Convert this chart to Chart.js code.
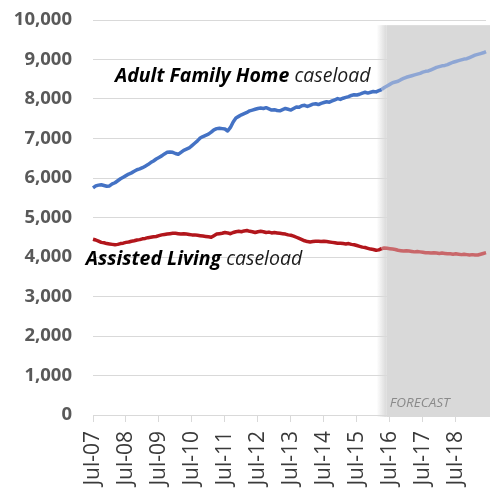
<!DOCTYPE html>
<html>
<head>
<meta charset="utf-8">
<script src="https://cdn.jsdelivr.net/npm/chart.js@4/dist/chart.umd.min.js"></script>
<style>
  html, body { margin: 0; padding: 0; background: #ffffff; }
  #wrap { width: 490px; height: 496px; }
</style>
</head>
<body>
<div id="wrap"><canvas id="c" width="490" height="496"></canvas></div>
<script>
// Monthly categories, Jul-07 through Jun-19
const MONTH_NAMES = ['Jan','Feb','Mar','Apr','May','Jun','Jul','Aug','Sep','Oct','Nov','Dec'];
const START_YEAR = 2007, START_MONTH = 6, MONTH_COUNT = 144;
const months = [];
for (let i = 0; i < MONTH_COUNT; i++) {
  const m = (START_MONTH + i) % 12;
  const y = START_YEAR + Math.floor((START_MONTH + i) / 12);
  months.push(MONTH_NAMES[m] + '-' + String(y % 100).padStart(2, '0'));
}

// Index of the first forecast month (Apr-16)
const forecastStart = months.indexOf('Apr-16');

// Adult Family Home caseload, by month
const adultFamilyHome = [
  5750, 5800, 5820, 5830, 5810, 5790, 5800, 5850, 5880, 5930, 5980, 6020,
  6060, 6100, 6130, 6170, 6210, 6230, 6260, 6300, 6340, 6390, 6430, 6480,
  6520, 6560, 6610, 6650, 6660, 6650, 6620, 6600, 6650, 6700, 6730, 6760,
  6820, 6880, 6940, 7010, 7050, 7080, 7110, 7160, 7220, 7250, 7260, 7250,
  7240, 7190, 7280, 7420, 7520, 7560, 7600, 7630, 7660, 7700, 7720, 7740,
  7760, 7770, 7760, 7780, 7750, 7720, 7730, 7710, 7700, 7730, 7760, 7740,
  7720, 7760, 7800, 7790, 7830, 7840, 7810, 7840, 7870, 7880, 7860, 7890,
  7910, 7930, 7920, 7950, 7980, 8010, 7990, 8020, 8040, 8060, 8090, 8110,
  8100, 8120, 8150, 8170, 8150, 8170, 8190, 8180, 8210, 8240, 8290, 8330,
  8370, 8410, 8430, 8450, 8490, 8520, 8550, 8570, 8590, 8610, 8630, 8650,
  8680, 8700, 8710, 8740, 8770, 8800, 8820, 8840, 8850, 8870, 8900, 8930,
  8950, 8970, 8990, 9010, 9020, 9050, 9080, 9110, 9130, 9150, 9170, 9200
];

// Assisted Living caseload, by month
const assistedLiving = [
  4450, 4430, 4400, 4370, 4360, 4340, 4330, 4320, 4310, 4320, 4340, 4350,
  4370, 4380, 4400, 4410, 4430, 4440, 4460, 4470, 4490, 4500, 4510, 4520,
  4540, 4560, 4570, 4580, 4590, 4600, 4600, 4590, 4580, 4590, 4580, 4570,
  4560, 4560, 4550, 4540, 4530, 4520, 4510, 4500, 4540, 4580, 4590, 4600,
  4620, 4610, 4590, 4620, 4640, 4650, 4640, 4660, 4670, 4650, 4640, 4620,
  4640, 4650, 4640, 4620, 4630, 4610, 4620, 4610, 4600, 4590, 4580, 4560,
  4550, 4530, 4500, 4470, 4440, 4410, 4390, 4380, 4390, 4400, 4400, 4390,
  4400, 4390, 4380, 4370, 4360, 4350, 4350, 4340, 4330, 4340, 4320, 4310,
  4290, 4270, 4250, 4240, 4220, 4200, 4190, 4170, 4180, 4210, 4230, 4220,
  4210, 4200, 4190, 4170, 4160, 4150, 4160, 4150, 4140, 4130, 4140, 4130,
  4120, 4110, 4110, 4100, 4110, 4100, 4090, 4100, 4090, 4080, 4080, 4070,
  4080, 4070, 4060, 4070, 4060, 4050, 4060, 4050, 4050, 4070, 4090, 4110
];

// Y axis ticks
const yTicks = [0, 1000, 2000, 3000, 4000, 5000, 6000, 7000, 8000, 9000, 10000];

// Split a series into its actual and forecast parts (sharing the boundary month)
function actualPart(arr) { return arr.map((v, i) => (i <= forecastStart ? v : null)); }
function forecastPart(arr) { return arr.map((v, i) => (i >= forecastStart ? v : null)); }

// Grey band behind the forecast months
const forecastBand = {
  id: 'forecastBand',
  beforeDraw(chart) {
    const { ctx, scales } = chart;
    const x0 = scales.x.getPixelForValue(forecastStart) + 1;
    const yTop = scales.y.getPixelForValue(9870);
    const yBot = scales.y.getPixelForValue(0) + 2;
    ctx.save();
    const g = ctx.createLinearGradient(x0 - 6, 0, x0 + 4, 0);
    g.addColorStop(0, 'rgba(217,217,217,0)');
    g.addColorStop(1, 'rgba(217,217,217,1)');
    ctx.fillStyle = g;
    ctx.fillRect(x0 - 6, yTop, 10, yBot - yTop);
    ctx.fillStyle = '#d9d9d9';
    ctx.fillRect(x0 + 4, yTop, chart.width - x0, yBot - yTop);
    ctx.restore();
  }
};

// Series captions and the forecast tag
function mixedText(ctx, x, y, parts) {
  let cx = x;
  for (const p of parts) {
    ctx.font = p.font;
    ctx.fillStyle = p.color;
    ctx.fillText(p.text, cx, y);
    cx += ctx.measureText(p.text).width;
  }
}
const captions = {
  id: 'captions',
  afterDatasetsDraw(chart) {
    const { ctx, scales } = chart;
    ctx.save();
    ctx.textBaseline = 'alphabetic';
    ctx.textAlign = 'left';
    mixedText(ctx, scales.x.getPixelForValue(8), scales.y.getPixelForValue(8430), [
      { text: 'Adult Family Home ', font: 'italic bold 19.5px "Open Sans"', color: '#000000' },
      { text: 'caseload', font: 'italic 19.5px "Open Sans"', color: '#1a1a1a' }
    ]);
    mixedText(ctx, scales.x.getPixelForValue(-2.6), scales.y.getPixelForValue(3800), [
      { text: 'Assisted Living ', font: 'italic bold 19.5px "Open Sans"', color: '#000000' },
      { text: 'caseload', font: 'italic 19.5px "Open Sans"', color: '#1a1a1a' }
    ]);
    ctx.font = 'italic 13.5px "Open Sans"';
    ctx.fillStyle = '#8a8a8a';
    ctx.fillText('FORECAST', scales.x.getPixelForValue(forecastStart + 3), scales.y.getPixelForValue(200));
    ctx.restore();
  }
};

new Chart(document.getElementById('c'), {
  type: 'line',
  data: {
    labels: months,
    datasets: [
      { data: actualPart(adultFamilyHome), borderColor: '#4472c4', borderWidth: 3.5 },
      { data: forecastPart(adultFamilyHome), borderColor: '#8ea6d4', borderWidth: 3.5 },
      { data: actualPart(assistedLiving), borderColor: '#b2161c', borderWidth: 3.5 },
      { data: forecastPart(assistedLiving), borderColor: '#c9676a', borderWidth: 3.5 }
    ]
  },
  options: {
    responsive: false,
    animation: false,
    events: [],
    layout: { padding: { top: 20, right: 0, bottom: 0, left: 0 } },
    elements: { point: { radius: 0 }, line: { tension: 0, borderJoinStyle: 'round' } },
    plugins: { legend: { display: false }, tooltip: { enabled: false } },
    scales: {
      x: {
        type: 'category',
        offset: false,
        afterBuildTicks(scale) { scale.ticks = scale.ticks.filter(t => t.value % 12 === 0); },
        afterFit(scale) { scale.height = 81; },
        border: { display: false },
        grid: { drawOnChartArea: false, drawTicks: true, tickLength: 7, color: '#d9d9d9', lineWidth: 1 },
        ticks: {
          autoSkip: false, minRotation: 90, maxRotation: 90, padding: 9,
          color: '#3a3a3a', font: { family: '"Open Sans"', size: 21 }
        }
      },
      y: {
        min: 0, max: 10000,
        afterBuildTicks(scale) { scale.ticks = yTicks.map(v => ({ value: v })); },
        afterFit(scale) { scale.width = 93; },
        border: { display: false },
        // transparent tick marks keep the labels clear of the plot
        grid: { color: '#d9d9d9', lineWidth: 1, drawTicks: true, tickLength: 21, tickColor: 'rgba(0,0,0,0)' },
        ticks: {
          padding: 0, color: '#595959',
          font: { family: '"Open Sans"', size: 18.5, weight: 'bold' },
          callback: v => v.toLocaleString('en-US')
        }
      }
    }
  },
  plugins: [forecastBand, captions]
});
</script>
</body>
</html>
